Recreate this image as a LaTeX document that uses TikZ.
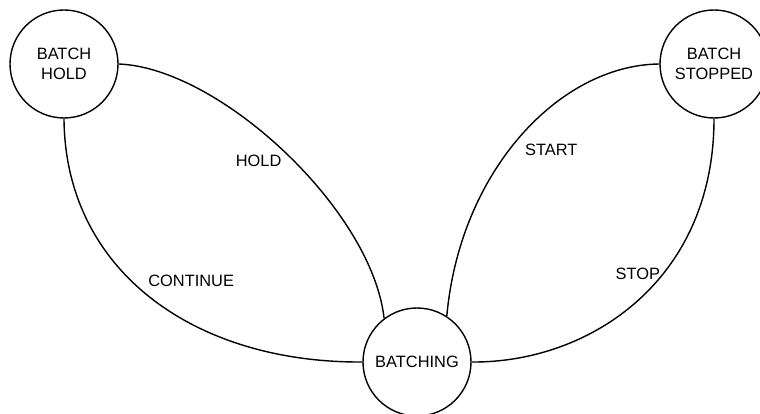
\documentclass[tikz,border=0pt]{standalone}
\usepackage{fontspec}
\setmainfont{Liberation Sans}
\usetikzlibrary{automata, positioning}

\begin{document}
\begin{tikzpicture}[x=1pt,y=-1pt,line width=1.4pt,
    font=\fontsize{16.4}{20}\selectfont,
    every state/.style={draw,minimum size=108pt,inner sep=0pt,align=center},
    lbl/.style={inner sep=2pt}]
       \useasboundingbox (0,0) rectangle (760,414);
       \node[state] (hold) at (64,64) {BATCH\\HOLD};
       \node[state] (stopped) at (714,64) {BATCH\\STOPPED};
       \node[state] (batching) at (417,362) {BATCHING};

       \path[draw]
       (hold.east) .. controls (220,68) and (372,210) ..
            node[lbl,pos=0.53,left=10pt] {HOLD} (batching.127.5)
       (hold.south) .. controls (65,269) and (192,363) ..
            node[lbl,pos=0.5,anchor=south west,xshift=-4pt,yshift=8pt] {CONTINUE} (batching.west)
       (batching.57.8) .. controls (460,170) and (560,65) ..
            node[lbl,pos=0.45,right=13pt] {START} (stopped.west)
       (stopped.south) .. controls (714,280) and (590,363) ..
            node[lbl,pos=0.4,anchor=east] {STOP} (batching.east);
    \end{tikzpicture}
\end{document}
